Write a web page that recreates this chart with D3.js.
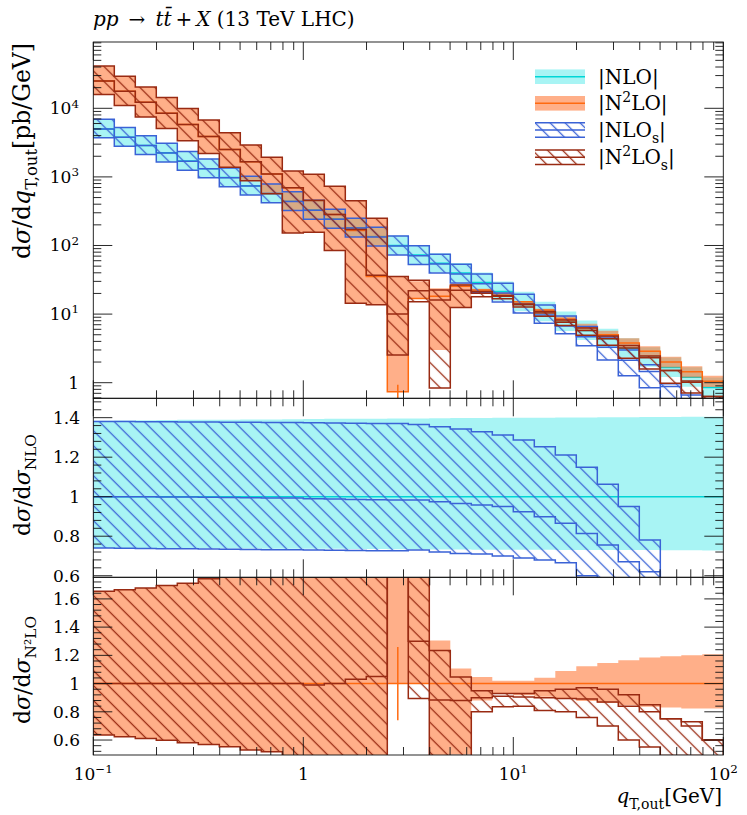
<!DOCTYPE html>
<html><head><meta charset="utf-8">
<script src="https://cdn.jsdelivr.net/npm/d3@7"></script>
<style>
body{margin:0;background:#fff;}
svg{font-family:"DejaVu Serif","Liberation Serif",serif;}
</style></head><body>
<svg id="c" width="747" height="815"></svg>
<script>
// ---------------- data ----------------
const binEdges = [0.1,0.1259,0.1585,0.1995,0.2512,0.3162,0.3981,0.5012,0.631,0.7943,1,1.259,1.585,1.995,2.512,3.162,3.981,5.012,6.31,7.943,10,12.59,15.85,19.95,25.12,31.62,39.81,50.12,63.1,79.43,100];
// central values (top panel, pb/GeV)
const nloC  = [5010,3800,2880,2240,1700,1320,977,741,575,442,331,245,182,135,100,72.4,55.0,39.8,28.8,21.4,15.1,10.8,7.76,5.75,4.37,3.16,2.34,1.66,1.20,0.85];
const n2loC = [25100,17660,12220,8470,5790,3870,2510,1660,1100,692,457,282,166,35.2,0.741,16.9,18.2,25.4,22.4,20.0,15.1,11.5,8.51,6.46,5.01,3.80,2.88,2.0,1.45,1.05];
// NLO scale band, relative to NLO central
const nloLoR = [0.74,0.74,0.74,0.739,0.739,0.739,0.738,0.738,0.737,0.737,0.736,0.736,0.735,0.735,0.734,0.734,0.733,0.733,0.732,0.732,0.731,0.731,0.73,0.73,0.73,0.73,0.73,0.729,0.729,0.728];
const nloHiR = [1.385,1.386,1.387,1.388,1.389,1.389,1.39,1.391,1.391,1.392,1.393,1.394,1.394,1.395,1.396,1.396,1.397,1.398,1.398,1.399,1.4,1.4,1.401,1.401,1.402,1.402,1.403,1.403,1.404,1.404];
// NLOs band and central, relative to NLO central
const nlosC   = [1.0,1.0,1.0,0.999,0.998,0.997,0.996,0.995,0.994,0.993,0.99,0.988,0.986,0.984,0.983,0.983,0.975,0.965,0.958,0.95,0.924,0.899,0.865,0.814,0.755,0.671,0.62,0.53,0.47,0.4];
const nlosLoR = [0.74,0.739,0.738,0.737,0.736,0.735,0.734,0.733,0.732,0.731,0.73,0.729,0.728,0.727,0.726,0.73,0.72,0.713,0.71,0.70,0.69,0.68,0.666,0.60,0.49,0.40,0.36,0.32,0.28,0.25];
const nlosHiR = [1.38,1.38,1.379,1.379,1.378,1.378,1.377,1.377,1.376,1.375,1.374,1.373,1.372,1.371,1.37,1.366,1.354,1.343,1.329,1.312,1.287,1.253,1.211,1.149,1.063,0.95,0.781,0.58,0.55,0.5];
// N2LO scale band, relative to N2LO central
const n2loLoR = [0.635,0.623,0.611,0.599,0.581,0.569,0.553,0.529,0.517,0.22,0.34,0.30,0.087,0.39,1.0,1.0,0.165,0.50,0.88,0.929,0.918,0.906,0.894,0.877,0.863,0.847,0.835,0.830,0.823,0.823];
const n2loHiR = [1.655,1.664,1.678,1.695,1.711,1.742,1.76,1.76,1.76,1.76,2.4,2.6,2.7,7.1,47.7,1.78,1.306,1.106,1.047,1.02,1.02,1.042,1.089,1.122,1.146,1.165,1.184,1.193,1.2,1.207];
// N2LOs band and central, relative to N2LO central
const n2losC   = [1,1,1,1,1,1,1,1,1,1,0.99,1.0,1.03,1.05,13.5,1.3,0.883,0.88,0.9,0.91,0.905,0.9,0.895,0.89,0.87,0.84,0.8,0.75,0.7,0.6];
const n2losLoR = [0.635,0.623,0.611,0.599,0.581,0.569,0.553,0.529,0.517,0.22,0.34,0.30,0.087,0.39,3.42,0.894,0.046,0.49,0.8,0.835,0.84,0.81,0.8,0.76,0.7,0.6,0.55,0.49,0.49,0.45];
const n2losHiR = [1.655,1.664,1.678,1.695,1.711,1.742,1.76,1.76,1.76,1.76,2.4,2.6,2.7,7.1,47.7,1.85,1.235,1.047,0.95,0.93,0.93,0.95,0.96,0.97,0.96,0.92,0.85,0.75,0.73,0.6];
// statistical error bar on N2LO (relative), only visible in one bin
const n2loErr = [0,0,0,0,0,0,0,0,0,0,0,0,0,0,0.26,0,0,0,0,0,0,0,0,0,0,0,0,0,0,0];
// ticks / labels
const xMajor = [0.1,1,10,100];
const xTickLabels = [["10","−1"],["1",null],["10","1"],["10","2"]];
const yTopMajor = [1,10,100,1000,10000];
const yTopLabels = [["1",null],["10","1"],["10","2"],["10","3"],["10","4"]];
const yMidMajor = [0.6,0.8,1,1.2,1.4];
const yBotMajor = [0.6,0.8,1,1.2,1.4,1.6];
const legendNames = [["|NLO|"],["|N","2","LO|"],["|NLO","s","|"],["|N","2","LO","s","|"]];

// ---------------- layout ----------------
const L=93.3, R=723.3;
const P = {top:[42,398.3], mid:[398.3,577.3], bot:[577.3,755]};
const col = {cyanL:"#00d6d6", cyanF:"rgba(0,224,224,0.34)", orL:"#ff6a10", orF:"rgba(255,110,40,0.55)", blue:"#3a62d6", brown:"#992a12"};

const svg = d3.select("#c");
const defs = svg.append("defs");
function hatch(id,color){
  const p = defs.append("pattern").attr("id",id).attr("patternUnits","userSpaceOnUse")
    .attr("width",10.6).attr("height",10.6).attr("patternTransform","rotate(-45)");
  p.append("line").attr("x1",5.3).attr("x2",5.3).attr("y1",-1).attr("y2",12).attr("stroke",color).attr("stroke-width",1.3);
}
hatch("hb",col.blue); hatch("hr",col.brown);

const x = d3.scaleLog().domain([0.1,100]).range([L,R]);
const yTop = d3.scaleLog().domain([0.5923,92580]).range([P.top[1],P.top[0]]);
const yMid = d3.scaleLinear().domain([0.592,1.498]).range([P.mid[1],P.mid[0]]);
const yBot = d3.scaleLinear().domain([0.494,1.753]).range([P.bot[1],P.bot[0]]);

Object.entries(P).forEach(([k,[a,b]])=>{
  defs.append("clipPath").attr("id","clip-"+k).append("rect").attr("x",L).attr("y",a).attr("width",R-L).attr("height",b-a);
});

function steps(lo,hi,c){
  const pts=[];
  for(let i=0;i<binEdges.length-1;i++){
    pts.push({x:binEdges[i],lo:lo[i],hi:hi[i],c:c[i]});
    pts.push({x:binEdges[i+1],lo:lo[i],hi:hi[i],c:c[i]});
  }
  return pts;
}
const mul=(a,b)=>a.map((v,i)=>v*b[i]);
const ones = binEdges.slice(1).map(()=>1);

function drawSeries(g,y,pts,fill,stroke,line,lineColor,hatched){
  const area = d3.area().x(d=>x(d.x)).y0(d=>y(d.lo)).y1(d=>y(d.hi));
  g.append("path").attr("d",area(pts)).attr("fill",fill)
    .attr("stroke",hatched?stroke:"none").attr("stroke-width",1.5).attr("stroke-linejoin","miter");
  if(line){
    const ln = d3.line().x(d=>x(d.x)).y(d=>y(d.c));
    g.append("path").attr("d",ln(pts)).attr("fill","none").attr("stroke",lineColor).attr("stroke-width",1.5);
  }
}

// ---------- top panel ----------
const gT = svg.append("g").attr("clip-path","url(#clip-top)");
drawSeries(gT,yTop,steps(mul(nloC,nloLoR),mul(nloC,nloHiR),nloC),col.cyanF,null,true,col.cyanL,false);
drawSeries(gT,yTop,steps(mul(n2loC,n2loLoR),mul(n2loC,n2loHiR),n2loC),col.orF,null,true,col.orL,false);
drawSeries(gT,yTop,steps(mul(nloC,nlosLoR),mul(nloC,nlosHiR),mul(nloC,nlosC)),"url(#hb)",col.blue,true,col.blue,true);
drawSeries(gT,yTop,steps(mul(n2loC,n2losLoR),mul(n2loC,n2losHiR),mul(n2loC,n2losC)),"url(#hr)",col.brown,true,col.brown,true);
n2loErr.forEach((e,i)=>{ if(e>0){
  const xc = Math.sqrt(binEdges[i]*binEdges[i+1]);
  gT.append("line").attr("x1",x(xc)).attr("x2",x(xc)).attr("y1",yTop(n2loC[i]*(1+e))).attr("y2",yTop(n2loC[i]*(1-e)))
    .attr("stroke",col.orL).attr("stroke-width",1.5);
}});

// ---------- middle panel ----------
const gM = svg.append("g").attr("clip-path","url(#clip-mid)");
drawSeries(gM,yMid,steps(nloLoR,nloHiR,ones),col.cyanF,null,true,col.cyanL,false);
drawSeries(gM,yMid,steps(nlosLoR,nlosHiR,nlosC),"url(#hb)",col.blue,true,col.blue,true);

// ---------- bottom panel ----------
const gB = svg.append("g").attr("clip-path","url(#clip-bot)");
drawSeries(gB,yBot,steps(n2loLoR,n2loHiR,ones),col.orF,null,true,col.orL,false);
drawSeries(gB,yBot,steps(n2losLoR,n2losHiR,n2losC),"url(#hr)",col.brown,true,col.brown,true);
n2loErr.forEach((e,i)=>{ if(e>0){
  const xc = Math.sqrt(binEdges[i]*binEdges[i+1]);
  gB.append("line").attr("x1",x(xc)).attr("x2",x(xc)).attr("y1",yBot(1+e)).attr("y2",yBot(1-e))
    .attr("stroke",col.orL).attr("stroke-width",1.5);
}});

// ---------- frames & ticks ----------
const gA = svg.append("g").attr("stroke","#111").attr("stroke-width",0.9);
const xMinor=[]; for(let e=-1;e<2;e++) for(let k=2;k<10;k++) xMinor.push(k*Math.pow(10,e));
Object.entries(P).forEach(([k,[a,b]])=>{
  gA.append("rect").attr("x",L).attr("y",a).attr("width",R-L).attr("height",b-a).attr("fill","none");
  xMajor.forEach(v=>{ gA.append("line").attr("x1",x(v)).attr("x2",x(v)).attr("y1",a).attr("y2",a+18);
                      gA.append("line").attr("x1",x(v)).attr("x2",x(v)).attr("y1",b).attr("y2",b-18); });
  xMinor.forEach(v=>{ gA.append("line").attr("x1",x(v)).attr("x2",x(v)).attr("y1",a).attr("y2",a+8);
                      gA.append("line").attr("x1",x(v)).attr("x2",x(v)).attr("y1",b).attr("y2",b-8); });
});
function yTick(y,len){
  gA.append("line").attr("x1",L).attr("x2",L+len).attr("y1",y).attr("y2",y);
  gA.append("line").attr("x1",R).attr("x2",R-len).attr("y1",y).attr("y2",y);
}
yTopMajor.forEach(v=>yTick(yTop(v),19));
for(let e=-1;e<5;e++) for(let k=2;k<10;k++){ const v=k*Math.pow(10,e); const d=yTop.domain(); if(v>d[0]&&v<d[1]) yTick(yTop(v),8); }
function linTicks(scale,majors){
  majors.forEach(v=>yTick(scale(v),19));
  const d=scale.domain();
  for(let v=0.4;v<2;v+=0.04){ const r=Math.round(v*100)/100; if(r>d[0]&&r<d[1]&&!majors.some(m=>Math.abs(m-r)<1e-6)) yTick(scale(r),8); }
}
linTicks(yMid,yMidMajor); linTicks(yBot,yBotMajor);

// ---------- text ----------
function rich(sel,parts,size){
  let shift=0;
  parts.forEach(([t,kind])=>{
    const target = kind==="sub"? size*0.28 : kind==="sup"? -size*0.4 : 0;
    const ts = sel.append("tspan").text(t).attr("dy",(target-shift)+"px");
    shift=target;
    if(kind==="sub"||kind==="sup") ts.attr("font-size",(size*0.7)+"px");
    if(kind==="i") ts.attr("font-style","italic");
  });
}
const fs=17;
function sci(lbl){ return lbl[1]==null? [[lbl[0]]] : [[lbl[0]],[lbl[1],"sup"]]; }
xMajor.forEach((v,i)=>{
  const t=svg.append("text").attr("x",x(v)).attr("y",780).attr("text-anchor","middle").attr("font-size",fs+"px");
  rich(t,sci(xTickLabels[i]),fs);
});
yTopMajor.forEach((v,i)=>{
  const t=svg.append("text").attr("x",79).attr("y",yTop(v)+6).attr("text-anchor","end").attr("font-size",fs+"px");
  rich(t,sci(yTopLabels[i]),fs);
});
const fmt=v=>String(v);
yMidMajor.forEach(v=>svg.append("text").attr("x",80).attr("y",yMid(v)+6).attr("text-anchor","end").attr("font-size",fs+"px").text(fmt(v)));
yBotMajor.forEach(v=>svg.append("text").attr("x",80).attr("y",yBot(v)+6).attr("text-anchor","end").attr("font-size",fs+"px").text(fmt(v)));

const tt=svg.append("text").attr("x",93).attr("y",26).attr("font-size","20px");
rich(tt,[["pp","i"],["\u2002→\u2002"],["tt̄","i"],["\u2009+\u2009"],["X","i"],[" (13 TeV LHC)"]],20);
const xt=svg.append("text").attr("x",722).attr("y",803).attr("text-anchor","end").attr("font-size","20px");
rich(xt,[["q","i"],["T,out","sub"],["[GeV]"]],20);
function ytitle(yPos,anchor,size,parts){
  const t=svg.append("text").attr("transform",`translate(30,${yPos}) rotate(-90)`).attr("text-anchor",anchor).attr("font-size",size+"px");
  rich(t,parts,size);
}
ytitle(43,"end",23.5,[["d"],["σ","i"],["/d"],["q","i"],["T,out","sub"],["[pb/GeV]"]]);
ytitle(485,"middle",22,[["d"],["σ","i"],["/d"],["σ","i"],["NLO","sub"]]);
ytitle(670,"middle",22,[["d"],["σ","i"],["/d"],["σ","i"],["N²LO","sub"]]);

// legend
const legY=[76.7,103.3,130,157.3];
const legStyle=[
  {fill:col.cyanF,line:col.cyanL,outline:null},
  {fill:col.orF,line:col.orL,outline:null},
  {fill:"url(#hb)",line:col.blue,outline:col.blue},
  {fill:"url(#hr)",line:col.brown,outline:col.brown}];
legY.forEach((cy,i)=>{
  const s=legStyle[i], g=svg.append("g");
  g.append("rect").attr("x",535).attr("y",cy-7.3).attr("width",50).attr("height",14.6).attr("fill",s.fill);
  if(s.outline){
    [cy-7.3,cy+7.3].forEach(yy=>g.append("line").attr("x1",535).attr("x2",585).attr("y1",yy).attr("y2",yy).attr("stroke",s.outline).attr("stroke-width",1.5));
  }
  g.append("line").attr("x1",535).attr("x2",585).attr("y1",cy).attr("y2",cy).attr("stroke",s.line).attr("stroke-width",1.5);
  const t=svg.append("text").attr("x",598).attr("y",cy+7).attr("font-size","20px");
  const n=legendNames[i];
  const parts = i===0? [[n[0]]] : i===1? [[n[0]],[n[1],"sup"],[n[2]]] : i===2? [[n[0]],[n[1],"sub"],[n[2]]] : [[n[0]],[n[1],"sup"],[n[2]],[n[3],"sub"],[n[4]]];
  rich(t,parts,20);
});
</script>
</body></html>
